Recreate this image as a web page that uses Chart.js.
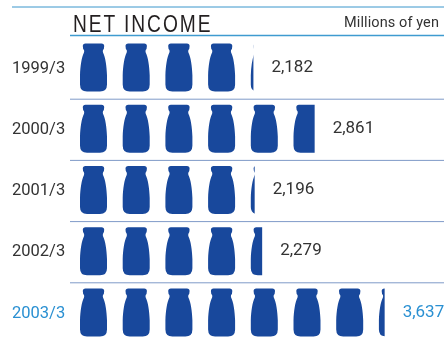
<!DOCTYPE html>
<html>
<head>
<meta charset="utf-8">
<title>Net Income</title>
<script src="https://cdn.jsdelivr.net/npm/chart.js@4"></script>
<style>
    html, body { margin: 0; padding: 0; background: #fff; }
    #wrap { position: relative; width: 444px; height: 339px; overflow: hidden; }
    #incomeChart { position: absolute; left: 0; top: 0; }
    .heading { position: absolute; white-space: nowrap; line-height: 1; }
    #title { left: 73px; top: 10px; font: 24px "Liberation Sans", sans-serif; letter-spacing: 2.4px; color: #231f20; transform: scaleX(0.8); transform-origin: left top; }
    #unit { right: 5px; top: 14px; font: 14.5px Roboto, sans-serif; letter-spacing: 0.1px; color: #333; }
</style>
</head>
<body>
<div id="wrap">
    <canvas id="incomeChart" width="444" height="346"></canvas>
    <div class="heading" id="title">NET INCOME</div>
    <div class="heading" id="unit">Millions of yen</div>
</div>
<script>
const periods = ["1999/3", "2000/3", "2001/3", "2002/3", "2003/3"];
const netIncome = [2182, 2861, 2196, 2279, 3637];
const xMax = 4295;

const BLUE = "#18489c";
const TEXT = "#333333";
const HIGHLIGHT = "#2a90d2";
const FONT = "17px Roboto, sans-serif";

// bottle outline, 27 wide and 48 tall
const bottle = new Path2D(
    "M5.5 0 H21.5 Q24.2 0 24.2 2.5 Q24.2 5.5 23 6.5 Q22.6 7.5 23 9 " +
    "C25.4 14 26.7 22 27 32 V41 Q27 48 20 48 H7 Q0 48 0 41 V32 " +
    "C0.3 22 1.6 14 4 9 Q4.4 7.5 4 6.5 Q2.8 5.5 2.8 2.5 Q2.8 0 5.5 0 Z"
);

// repeats the bottle along each bar and cuts it off at the bar's value
const bottleBars = {
    id: "bottleBars",
    afterDatasetsDraw(chart) {
        const ctx = chart.ctx;
        const meta = chart.getDatasetMeta(0);
        meta.data.forEach((bar, i) => {
            ctx.save();
            ctx.beginPath();
            ctx.rect(bar.base, bar.y - 40, bar.x - bar.base, 80);
            ctx.clip();
            ctx.fillStyle = BLUE;
            for (let x = 80; x < bar.x; x += 42.7) {
                ctx.save();
                ctx.translate(x, bar.y - 25);
                ctx.fill(bottle);
                ctx.restore();
            }
            ctx.restore();

            ctx.fillStyle = i === periods.length - 1 ? HIGHLIGHT : TEXT;
            ctx.font = FONT;
            ctx.textBaseline = "middle";
            ctx.fillText(netIncome[i].toLocaleString("en-US"), bar.x + 18, bar.y - 1);
        });
    }
};

// header rules and the separators between the rows
const rules = {
    id: "rules",
    beforeDatasetsDraw(chart) {
        const ctx = chart.ctx;
        const y = chart.scales.y;
        const line = (x0, yPos, color, w) => {
            ctx.strokeStyle = color;
            ctx.lineWidth = w;
            ctx.beginPath();
            ctx.moveTo(x0, yPos);
            ctx.lineTo(444, yPos);
            ctx.stroke();
        };
        line(12, 7, "#3a96cc", 1);
        line(70, 35.5, "#3f9bd0", 1.5);
        for (let i = 1; i < periods.length; i++) {
            const between = (y.getPixelForValue(i - 1) + y.getPixelForValue(i)) / 2;
            line(70, between, "#7f9ac8", 1);
        }
    }
};

new Chart(document.getElementById("incomeChart"), {
    type: "bar",
    data: {
        labels: periods,
        datasets: [{
            label: "Net income",
            data: netIncome,
            backgroundColor: "transparent",
            barPercentage: 1,
            categoryPercentage: 1
        }]
    },
    options: {
        indexAxis: "y",
        responsive: false,
        animation: false,
        layout: { padding: { top: 38, bottom: 2 } },
        plugins: {
            legend: { display: false },
            tooltip: { enabled: false }
        },
        scales: {
            x: {
                display: false,
                min: 0,
                max: xMax
            },
            y: {
                afterFit: (scale) => { scale.width = 56.6; },
                grid: { display: false, drawTicks: false },
                border: { display: false },
                ticks: {
                    mirror: true,
                    padding: -44.6,
                    color: (c) => c.index === periods.length - 1 ? HIGHLIGHT : TEXT,
                    font: { family: "Roboto", size: 16.5 }
                }
            }
        }
    },
    plugins: [rules, bottleBars]
});
</script>
</body>
</html>
